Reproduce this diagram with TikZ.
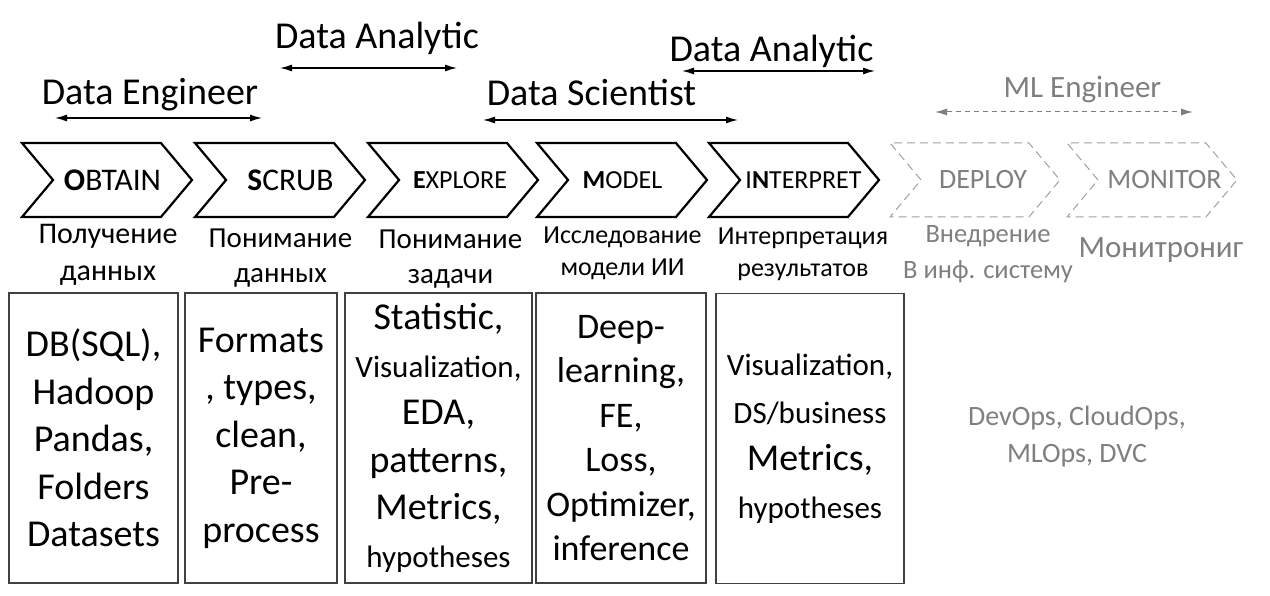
\documentclass[tikz,border=0pt]{standalone}
\usepackage{fontspec}
\setmainfont{Carlito}
\usepackage{tikz}
\usetikzlibrary{arrows.meta,positioning,shapes.symbols}
\definecolor{ink}{HTML}{000000}
\definecolor{frame}{HTML}{404040}
\definecolor{mute}{HTML}{7F7F7F}
\definecolor{mutedash}{HTML}{A0A0A0}
\newcommand{\fsz}[2]{\fontsize{#1}{#2}\selectfont}
\tikzset{
  >={Latex[length=12pt,width=7pt]},
  every node/.style={text=ink,inner sep=0pt},
  stage/.style={signal,signal from=west,signal to=east,signal pointer angle=100,draw=ink,line width=2.2pt,minimum width=170pt,minimum height=74pt,inner sep=0pt},
  laterstage/.style={stage,draw=mutedash,line width=1pt,dash pattern=on 8pt off 5pt},
  stagetext/.style={font=\fsz{26}{30}},
  bigstagetext/.style={font=\fsz{31.5}{34}},
  laterstagetext/.style={font=\fsz{28}{32},text=mute},
  role/.style={anchor=base,font=\fsz{38}{44}},
  laterrole/.style={role,font=\fsz{31}{36},text=mute},
  span/.style={<->,line width=1.3pt,draw=ink},
  laterspan/.style={span,draw=mute,line width=1pt,dash pattern=on 5pt off 4pt},
  caption/.style={anchor=north,align=center,font=\fsz{30}{37}},
  smallcaption/.style={caption,font=\fsz{26}{32}},
  latercaption/.style={caption,text=mute},
  toolbox/.style={draw=frame,line width=1.2pt,minimum height=290pt,align=center,font=\fsz{38}{47.5}},
  note/.style={align=center,font=\fsz{28}{37},text=mute}
}
\begin{document}
\begin{tikzpicture}[x=1pt,y=-1pt]
  \useasboundingbox (0,0) rectangle (1270,596);

  % roles above the stages
  \node[role] (engineer) at (150,105) {Data Engineer};
  \node[role] (analytic) at (377,49) {Data Analytic};
  \node[role] (scientist) at (591.5,106) {Data Scientist};
  \node[role] (analyticb) at (771.5,62) {Data Analytic};
  \node[laterrole] (mlengineer) at (1082.5,98) {ML Engineer};

  \coordinate (engineerL) at (55,118);   \coordinate (engineerR) at (262,118);
  \coordinate (analyticL) at (280,68);   \coordinate (analyticR) at (457,68);
  \coordinate (scientistL) at (483,120); \coordinate (scientistR) at (738,120);
  \coordinate (analyticbL) at (682,71);  \coordinate (analyticbR) at (875,71);
  \coordinate (mlengineerL) at (935,112); \coordinate (mlengineerR) at (1193,112);

  \draw[span] (engineerL) -- (engineerR);
  \draw[span] (analyticL) -- (analyticR);
  \draw[span] (scientistL) -- (scientistR);
  \draw[span] (analyticbL) -- (analyticbR);
  \draw[laterspan] (mlengineerL) -- (mlengineerR);

  % stages
  \node[stage] (obtain) at (107,180) {};
  \node[stage] (scrub) at (280,180) {};
  \node[stage] (explore) at (453,180) {};
  \node[stage] (model) at (622,180) {};
  \node[stage] (interpret) at (794,180) {};
  \node[laterstage] (deploy) at (975,180) {};
  \node[laterstage] (monitor) at (1152,180) {};

  \node[bigstagetext] (obtaintext) at ([xshift=5.5pt]obtain.center) {\textbf{O}BTAIN};
  \node[bigstagetext] (scrubtext) at ([xshift=10.5pt]scrub.center) {\textbf{S}CRUB};
  \node[stagetext] (exploretext) at ([xshift=7pt]explore.center) {\textbf{E}XPLORE};
  \node[stagetext] (modeltext) at ([xshift=0.5pt]model.center) {\textbf{M}ODEL};
  \node[stagetext] (interprettext) at ([xshift=9.5pt]interpret.center) {I\textbf{N}TERPRET};
  \node[laterstagetext] (deploytext) at ([xshift=8pt]deploy.center) {DEPLOY};
  \node[laterstagetext] (monitortext) at ([xshift=12.5pt]monitor.center) {MONITOR};

  % captions
  \node[caption] (obtaincap) at (108,224) {Получение\\данных};
  \node[caption,font=\fsz{29}{34.5}] (scrubcap) at (280.5,229) {Понимание\\данных};
  \node[caption,font=\fsz{29}{34.5}] (explorecap) at (450.5,230) {Понимание\\задачи};
  \node[smallcaption,font=\fsz{26}{31.5}] (modelcap) at (622.5,227) {Исследование\\модели ИИ};
  \node[smallcaption] (interpretcap) at (803,228) {Интерпретация\\результатов};
  \node[latercaption,font=\fsz{26.5}{36}] (deploycap) at (988,225) {Внедрение\\В инф. систему};
  \node[latercaption,font=\fsz{31}{36}] (monitorcap) at (1161,237) {Монитрониг};

  % tools
  \node[toolbox,minimum width=169pt] (obtaintools) at (93.5,438) {DB(SQL),\\Hadoop\\Pandas,\\Folders\\Datasets};
  \node[toolbox,minimum width=152pt] (scrubtools) at (261,438) {Formats\\, types,\\clean,\\Pre-\\process};
  \node[toolbox,minimum width=187pt] (exploretools) at (438.5,438) {Statistic,\\{\fsz{31}{36}Visualization,}\\EDA,\\patterns,\\Metrics,\\{\fsz{31}{36}hypotheses}};
  \node[toolbox,minimum width=170pt,font=\fsz{36}{44.5}] (modeltools) at (621,438) {Deep-\\learning,\\FE,\\Loss,\\Optimizer,\\inference};
  \node[toolbox,minimum width=188pt] (interprettools) at (810,438.5) {{\fsz{31}{36}Visualization,}\\{\fsz{31}{36}DS/business}\\Metrics,\\{\fsz{31}{36}hypotheses}};
  \node[note] (ops) at (1077,437) {DevOps, CloudOps,\\MLOps, DVC};
\end{tikzpicture}
\end{document}
